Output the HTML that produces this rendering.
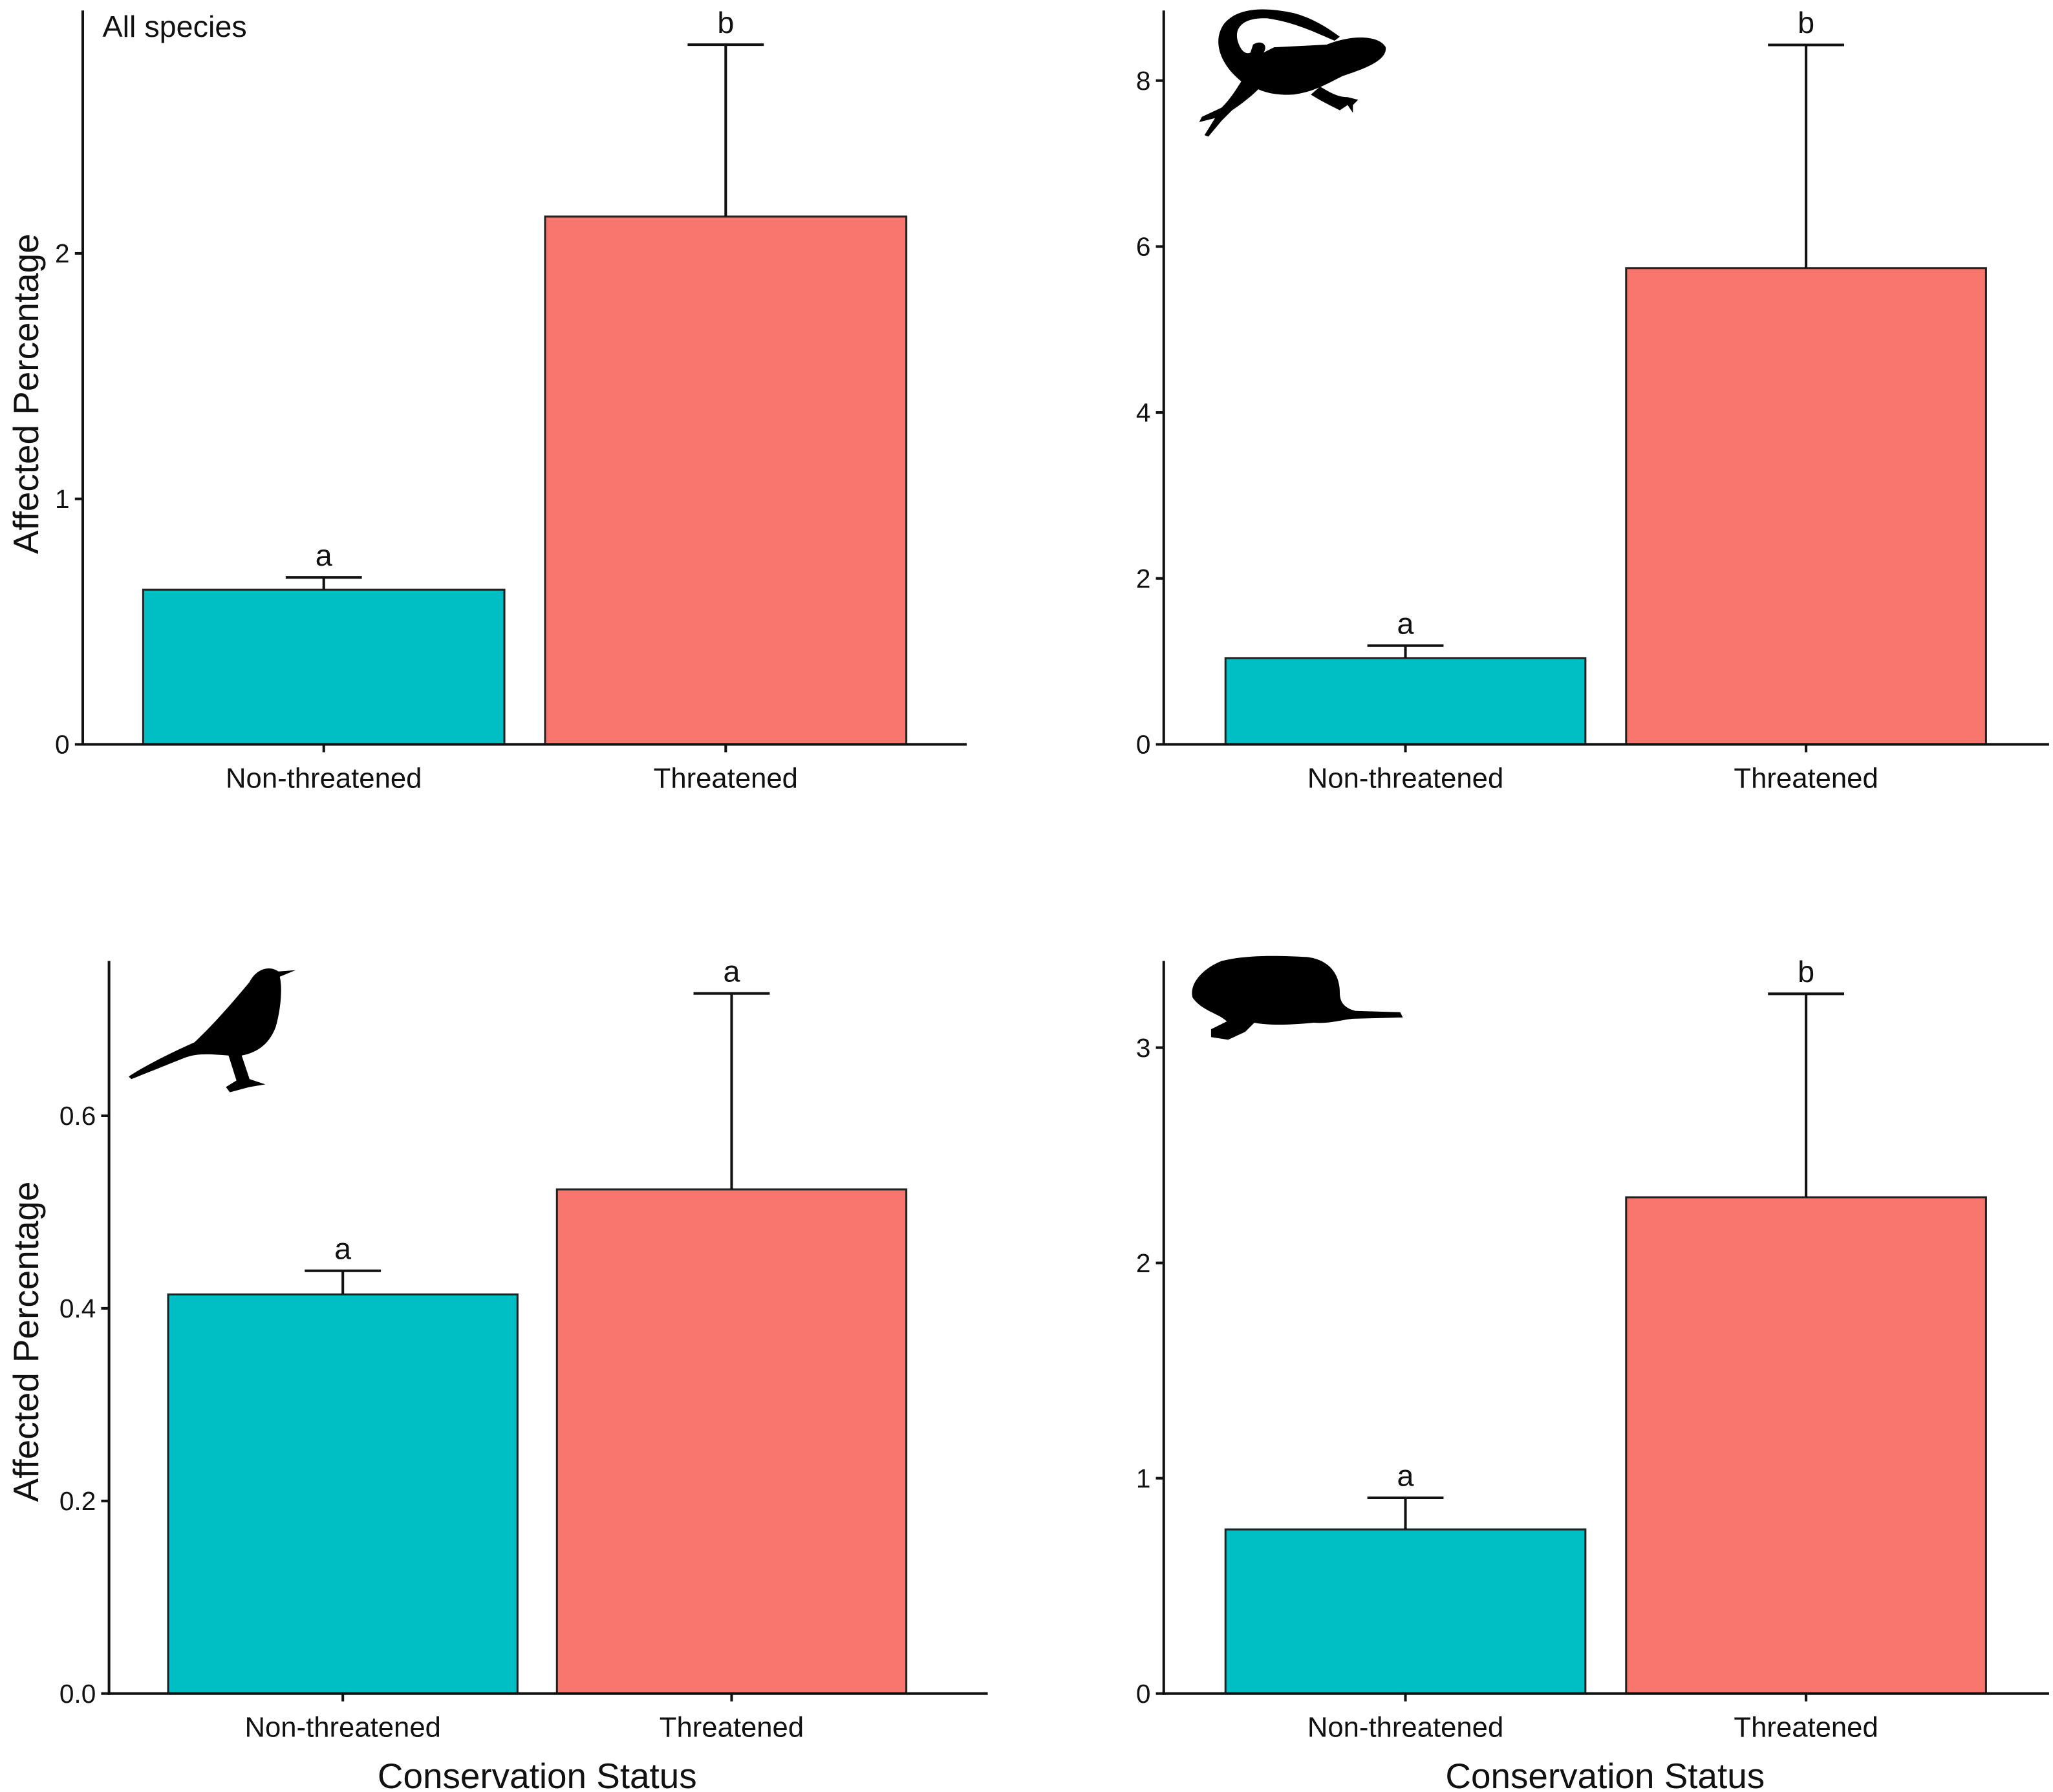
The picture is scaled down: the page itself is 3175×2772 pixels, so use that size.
<!DOCTYPE html>
<html><head><meta charset="utf-8">
<style>
html,body{margin:0;padding:0;background:#fff;}
svg{display:block;}
text{font-family:"Liberation Sans",sans-serif;fill:#111;}
</style></head>
<body>
<svg id="chart" width="3175" height="2772" viewBox="0 0 1563 1365" preserveAspectRatio="none" xmlns="http://www.w3.org/2000/svg">
<rect x="0" y="0" width="1563" height="1365" fill="#fff"/>
<g id="icons">
<g fill="#000" stroke="#000">
<path stroke="none" d="M945,62 C930,50 922,32 932,18 C942,6 962,5 985,10 C1000,14 1012,22 1020,28 L1016,31 C1000,24 985,17 965,14 C948,13 940,20 942,30 C944,38 948,42 952,40 L954,34 C960,30 966,34 962,40 L970,36 L1010,34 C1030,26 1050,27 1055,36 C1056,46 1040,52 1022,58 C1010,64 1000,70 985,72 C972,73 962,70 958,68 C952,74 944,80 938,84 L930,92 L920,104 L917,103 L925,90 L913,93 L915,89 L930,82 C936,76 940,70 945,62 Z"/>
<path stroke="none" d="M1005,66 C1012,70 1018,74 1026,74 L1034,76 L1030,80 L1030,86 L1026,80 L1020,84 C1012,80 1004,76 998,72 Z"/>
</g>
<path fill="#000" d="M98,820 C110,812 130,802 148,794 C165,778 180,760 190,748 C195,738 205,735 212,740 L225,739 L213,744 C215,752 214,768 210,782 C205,796 195,802 184,804 L190,822 L202,826 L190,828 L175,832 L172,828 L180,823 L174,804 C160,803 150,802 140,806 C125,812 110,818 100,822 Z"/>
<path fill="#000" d="M908,760 C905,750 915,738 930,732 C950,727 975,728 995,729 C1012,731 1020,742 1020,756 C1020,764 1024,768 1032,770 L1066,771 L1068,775 L1030,776 C1020,777 1012,780 1000,779 C980,781 965,781 955,779 L948,786 L935,792 L922,790 L922,784 L934,778 C928,772 915,770 908,760 Z"/>
</g>
<g id="panels"></g>
</svg>
<script>
// Panel A: All species
const categories = ["Non-threatened", "Threatened"];
const allMeans = [0.63, 2.15];
const allErr = [0.68, 2.85];
const allTicks = [0, 1, 2];
const allTickLabels = ["0", "1", "2"];
const allLetters = ["a", "b"];
// Panel B: reptiles
const repMeans = [1.04, 5.74];
const repErr = [1.19, 8.43];
const repTicks = [0, 2, 4, 6, 8];
const repTickLabels = ["0", "2", "4", "6", "8"];
const repLetters = ["a", "b"];
// Panel C: birds
const birdMeans = [0.4145, 0.5235];
const birdErr = [0.439, 0.727];
const birdTicks = [0, 0.2, 0.4, 0.6];
const birdTickLabels = ["0.0", "0.2", "0.4", "0.6"];
const birdLetters = ["a", "a"];
// Panel D: mammals
const mamMeans = [0.762, 2.305];
const mamErr = [0.909, 3.25];
const mamTicks = [0, 1, 2, 3];
const mamTickLabels = ["0", "1", "2", "3"];
const mamLetters = ["a", "b"];

const NS = "http://www.w3.org/2000/svg";
const root = document.getElementById('panels');
function mk(tag, attrs, parent){
  const e = document.createElementNS(NS, tag);
  for (const k in attrs) e.setAttribute(k, attrs[k]);
  parent.appendChild(e);
  return e;
}
const colors = ["#00BFC4", "#F8766D"];

function panel(cfg, means, errs, ticks, tickLabels, letters){
  const g = mk('g', {}, root);
  
  
  const y = v => cfg.y0 - v * cfg.ppu;
  means.forEach((m, i) => {
    const bx = cfg.bx[i];
    const r = mk('rect', {x: bx, y: y(m), width: cfg.bw, height: cfg.y0 - y(m), fill: colors[i], stroke: "#222", 'stroke-width': 1.5}, g);
    
    
    const cx = bx + cfg.bw / 2;
    const el = mk('path', {d: `M${cx},${y(m)} V${y(errs[i])} M${cx-29},${y(errs[i])} H${cx+29}`, stroke: "#111", 'stroke-width': 2, fill: "none"}, g);
    
    
    const lt = mk('text', {x: cx, y: y(errs[i]) - 9, 'text-anchor': 'middle', 'font-size': 23}, g);
    lt.textContent = letters[i];
    
    
    const tk = mk('line', {x1: cx, x2: cx, y1: cfg.y0, y2: cfg.y0 + 6, stroke: "#111", 'stroke-width': 2}, g);
    
    
    const xl = mk('text', {x: cx, y: cfg.y0 + 33, 'text-anchor': 'middle', 'font-size': 21.5}, g);
    xl.textContent = categories[i];
    
    
  });
  const ya = mk('line', {x1: cfg.ax, x2: cfg.ax, y1: cfg.top, y2: cfg.y0 + 1, stroke: "#111", 'stroke-width': 2}, g);
  
  
  const xa = mk('line', {x1: cfg.ax - 1, x2: cfg.xend, y1: cfg.y0, y2: cfg.y0, stroke: "#111", 'stroke-width': 2}, g);
  
  
  ticks.forEach((t, i) => {
    const tl = mk('line', {x1: cfg.ax - 6, x2: cfg.ax, y1: y(t), y2: y(t), stroke: "#111", 'stroke-width': 2}, g);
    
    
    const tx = mk('text', {x: cfg.ax - 10, y: y(t) + 7, 'text-anchor': 'end', 'font-size': 20}, g);
    tx.textContent = tickLabels[i];
    
    
  });
  if (cfg.ytitle) {
    const yt = mk('text', {x: 0, y: 0, 'text-anchor': 'middle', 'font-size': 27, transform: `translate(29,${cfg.ytc}) rotate(-90)`}, g);
    yt.textContent = "Affected Percentage";
    
    
  }
  if (cfg.xtitle) {
    const xt = mk('text', {x: cfg.xtitle, y: 1365 - 3, 'text-anchor': 'middle', 'font-size': 27}, g);
    xt.textContent = "Conservation Status";
    
    
  }
  if (cfg.label) {
    const lb = mk('text', {x: cfg.ax + 15, y: 28, 'font-size': 23}, g);
    lb.textContent = cfg.label;
    
    
  }
}

panel({name: 'panel-all-species', ax: 63, top: 8, y0: 567, ppu: 187, bx: [109, 415], bw: 275, xend: 736, ytitle: true, ytc: 300, label: "All species"}, allMeans, allErr, allTicks, allTickLabels, allLetters);
panel({name: 'panel-reptiles', ax: 886, top: 8, y0: 567, ppu: 63.2, bx: [933, 1238], bw: 274, xend: 1560}, repMeans, repErr, repTicks, repTickLabels, repLetters);
panel({name: 'panel-birds', ax: 83, top: 732, y0: 1290, ppu: 733.5, bx: [128, 424], bw: 266, xend: 752, ytitle: true, ytc: 1022, xtitle: 409}, birdMeans, birdErr, birdTicks, birdTickLabels, birdLetters);
panel({name: 'panel-mammals', ax: 886, top: 732, y0: 1290, ppu: 164, bx: [933, 1238], bw: 274, xend: 1560, xtitle: 1222}, mamMeans, mamErr, mamTicks, mamTickLabels, mamLetters);
</script>
</body></html>
